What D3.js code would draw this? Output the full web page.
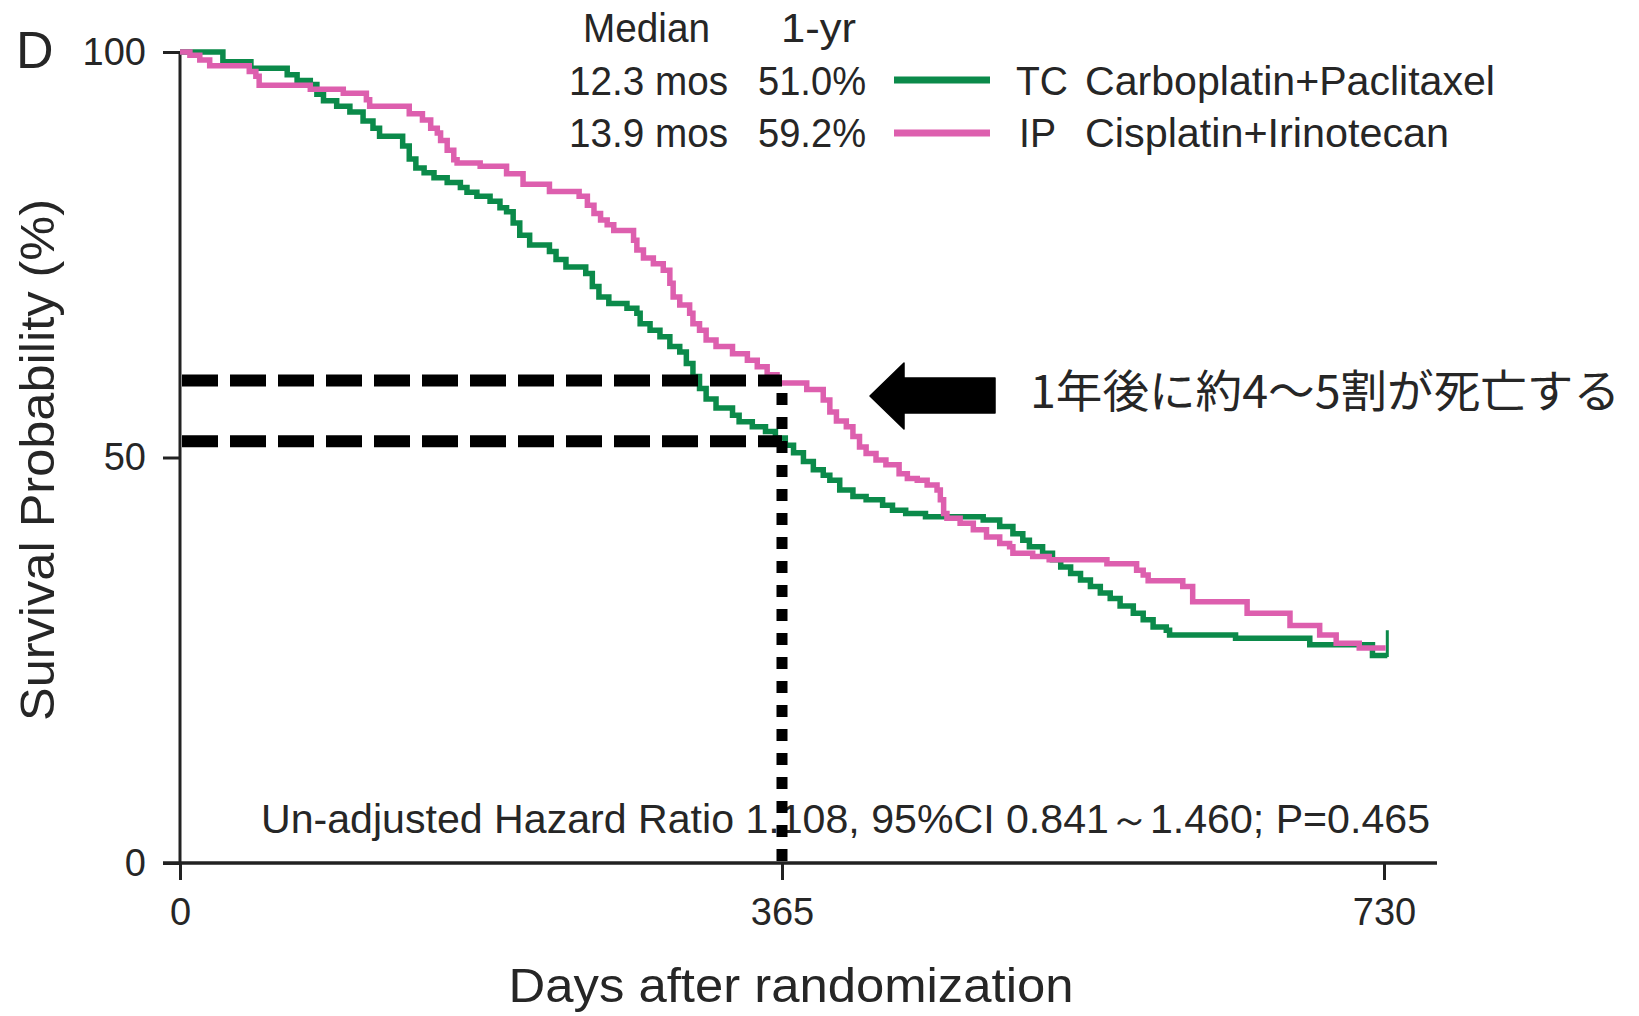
<!DOCTYPE html>
<html>
<head>
<meta charset="utf-8">
<script src="https://cdn.jsdelivr.net/npm/d3@7"></script>
<style>
body { margin: 0; background: #fff; }
svg text { font-family: "Liberation Sans", Arial, sans-serif; fill: #262626; }
</style>
</head>
<body>
<svg id="chart" width="1639" height="1016"></svg>
<script>
// Kaplan-Meier steps: day of drop, survival % after it
var tcDays = [0, 26, 43, 65, 71, 79, 83, 87, 95, 103, 111, 117, 121, 135, 139, 143, 148, 154, 162, 170,
  174, 180, 188, 194, 198, 202, 206, 212, 224, 228, 234, 246, 250, 254, 260, 271, 277, 279, 285, 291,
  297, 303, 307, 311, 315, 319, 325, 335, 339, 347, 355, 361, 367, 372, 378, 384, 390, 394, 400, 408,
  416, 426, 432, 440, 452, 487, 497, 505, 511, 515, 523, 529, 534, 540, 546, 552, 558, 564, 570, 578,
  584, 590, 598, 600, 640, 685, 723, 732];
var tcSurv = [100, 98.8, 98.0, 97.2, 96.5, 96.0, 94.8, 94.0, 93.3, 92.6, 91.5, 90.6, 89.6, 88.4, 86.8, 85.7, 85.1, 84.5, 83.9, 83.3,
  82.7, 82.2, 81.6, 80.8, 80.3, 78.9, 77.4, 76.2, 75.4, 74.4, 73.5, 72.7, 71.1, 69.8, 69.0, 68.4, 67.8, 66.5, 65.7, 64.9,
  63.7, 63.0, 61.6, 60.0, 58.5, 57.2, 56.1, 55.2, 54.4, 53.8, 53.2, 52.4, 51.5, 50.6, 49.5, 48.5, 47.8, 47.2, 46.0, 45.2,
  44.8, 44.1, 43.5, 43.1, 42.7, 42.3, 41.5, 40.6, 39.8, 39.0, 38.2, 37.4, 36.5, 35.7, 34.9, 34.1, 33.3, 32.6, 31.7, 30.8,
  30.0, 29.1, 28.7, 28.1, 27.7, 26.9, 25.6, 25.6];

var ipDays = [0, 6, 12, 18, 42, 46, 48, 79, 99, 113, 115, 139, 147, 152, 156, 158, 162, 166, 168, 182,
  198, 208, 224, 242, 247, 251, 255, 259, 263, 275, 277, 281, 287, 293, 297, 299, 303, 309, 311, 315,
  319, 325, 335, 344, 350, 356, 362, 380, 390, 394, 398, 404, 408, 412, 416, 422, 428, 436, 441, 447,
  453, 459, 461, 463, 465, 473, 481, 489, 497, 503, 505, 517, 527, 562, 580, 584, 587, 608, 614, 647,
  673, 691, 701, 715, 731];
var ipSurv = [100, 99.6, 99.0, 98.3, 97.6, 97.0, 95.9, 95.4, 94.9, 94.1, 93.3, 92.4, 91.6, 90.6, 90.0, 89.1, 87.9, 86.7, 86.3, 85.9,
  85.0, 83.7, 82.8, 82.2, 81.1, 80.1, 79.3, 78.7, 78.0, 76.8, 75.6, 74.6, 73.9, 73.1, 71.5, 69.8, 68.8, 67.8, 66.5, 65.7,
  64.5, 63.7, 62.8, 62.0, 61.2, 60.2, 59.2, 58.4, 57.1, 55.6, 54.5, 53.8, 52.6, 51.3, 50.5, 49.7, 49.1, 48.0, 47.4, 47.2,
  46.6, 46.0, 44.8, 43.1, 42.5, 41.9, 41.1, 40.2, 39.4, 39.0, 38.2, 37.8, 37.4, 36.9, 36.1, 35.5, 34.8, 34.1, 32.2, 30.8,
  29.3, 28.1, 27.1, 26.5, 26.5];

var tcCensor = [732, 25.4, 28.7];   // day, from %, to %

var xTicks = [0, 365, 730];
var yTicks = [0, 50, 100];

var refDay = 365;
var refLevels = [59.5, 52.0];

var legendMedian = ["12.3 mos", "13.9 mos"];
var legendYear = ["51.0%", "59.2%"];
var legendCode = ["TC", "IP"];
var legendName = ["Carboplatin+Paclitaxel", "Cisplatin+Irinotecan"];

var hrText = "Un-adjusted Hazard Ratio 1.108, 95%CI 0.841～1.460; P=0.465";
var noteText = "1年後に約4～5割が死亡する";

var green = "#0b8a4a", pink = "#dd5fae";

var svg = d3.select("#chart");

var x = d3.scaleLinear().domain([0, 730]).range([180, 1384]);
var y = d3.scaleLinear().domain([0, 100]).range([863, 52]);

// axes
var gx = svg.append("g")
    .attr("transform", "translate(0," + y(0) + ")")
    .call(d3.axisBottom(x).tickValues(xTicks).tickSize(17).tickPadding(18).tickFormat(d3.format("d")));
var gy = svg.append("g")
    .attr("transform", "translate(" + x(0) + ",0)")
    .call(d3.axisLeft(y).tickValues(yTicks).tickSize(17).tickPadding(17).tickFormat(d3.format("d")));

[gx, gy].forEach(function(g){
  g.select(".domain").remove();
  g.selectAll(".tick line").attr("stroke", "#222").attr("stroke-width", 3);
  g.selectAll(".tick text").attr("font-size", 38).attr("fill", "#262626")
    .attr("font-family", "\"Liberation Sans\", Arial, sans-serif");
});

svg.append("line")
    .attr("x1", x(0)).attr("x2", x(0)).attr("y1", y(100)).attr("y2", y(0))
    .attr("stroke", "#222").attr("stroke-width", 3);
svg.append("line")
    .attr("x1", x(0) - 17).attr("x2", 1437).attr("y1", y(0)).attr("y2", y(0))
    .attr("stroke", "#222").attr("stroke-width", 3.5);

// HR text (under the dotted guide)
svg.append("text")
    .attr("x", 261).attr("y", 833)
    .attr("font-size", 40)
    .attr("textLength", 1169).attr("lengthAdjust", "spacingAndGlyphs")
    .text(hrText);

// curves
var line = d3.line()
    .x(function(d){ return x(d[0]); })
    .y(function(d){ return y(d[1]); })
    .curve(d3.curveStepAfter);

var tcData = d3.zip(tcDays, tcSurv);
var ipData = d3.zip(ipDays, ipSurv);

svg.append("path").datum(tcData)
    .attr("d", line).attr("fill", "none")
    .attr("stroke", green).attr("stroke-width", 5.5);
svg.append("line")
    .attr("x1", x(tcCensor[0])).attr("x2", x(tcCensor[0]))
    .attr("y1", y(tcCensor[1])).attr("y2", y(tcCensor[2]))
    .attr("stroke", green).attr("stroke-width", 3);
svg.append("path").datum(ipData)
    .attr("d", line).attr("fill", "none")
    .attr("stroke", pink).attr("stroke-width", 5.5);

// guide lines at 1 year
svg.selectAll(".ref").data(refLevels).enter().append("line")
    .attr("x1", x(0) + 2).attr("x2", x(refDay))
    .attr("y1", function(d){ return y(d); }).attr("y2", function(d){ return y(d); })
    .attr("stroke", "#000").attr("stroke-width", 12)
    .attr("stroke-dasharray", "36,12");
svg.append("line")
    .attr("x1", x(refDay)).attr("x2", x(refDay))
    .attr("y1", y(refLevels[0]) + 12.5).attr("y2", y(0))
    .attr("stroke", "#000").attr("stroke-width", 11)
    .attr("stroke-dasharray", "12,12");

// arrow + note
svg.append("path")
    .attr("d", "M870,396 L904,363 L904,378 L995,378 L995,413 L904,413 L904,429 Z")
    .attr("fill", "#000").attr("stroke", "#000").attr("stroke-width", 1.5).attr("stroke-linejoin", "round");
svg.append("text")
    .attr("x", 1030).attr("y", 408)
    .attr("font-size", 45).attr("fill", "#000")
    .style("font-family", "\"Noto Sans CJK JP\", sans-serif")
    .attr("textLength", 590).attr("lengthAdjust", "spacingAndGlyphs")
    .text(noteText);

// panel letter
svg.append("text").attr("x", 16).attr("y", 68).attr("font-size", 52).text("D");

// axis titles
svg.append("text")
    .attr("transform", "translate(54,460) rotate(-90)")
    .attr("text-anchor", "middle")
    .attr("font-size", 48)
    .attr("textLength", 522).attr("lengthAdjust", "spacingAndGlyphs")
    .text("Survival Probability (%)");
svg.append("text")
    .attr("x", 791).attr("y", 1002)
    .attr("text-anchor", "middle")
    .attr("font-size", 48)
    .attr("textLength", 565).attr("lengthAdjust", "spacingAndGlyphs")
    .text("Days after randomization");

// legend
function label(tx, ty, len, s) {
  svg.append("text").attr("x", tx).attr("y", ty).attr("font-size", 40)
    .attr("textLength", len).attr("lengthAdjust", "spacingAndGlyphs").text(s);
}
label(583, 42, 127, "Median");
label(781, 42, 75, "1-yr");
var rowY = [95, 147], lineY = [80, 133], colors = [green, pink];
var codeX = [1016, 1019], codeLen = [52, 37], nameLen = [410, 364];
legendMedian.forEach(function(m, i){
  label(569, rowY[i], 159, m);
  label(758, rowY[i], 108, legendYear[i]);
  svg.append("line").attr("x1", 894).attr("x2", 990)
    .attr("y1", lineY[i]).attr("y2", lineY[i])
    .attr("stroke", colors[i]).attr("stroke-width", 7);
  label(codeX[i], rowY[i], codeLen[i], legendCode[i]);
  label(1085, rowY[i], nameLen[i], legendName[i]);
});
</script>
</body>
</html>
